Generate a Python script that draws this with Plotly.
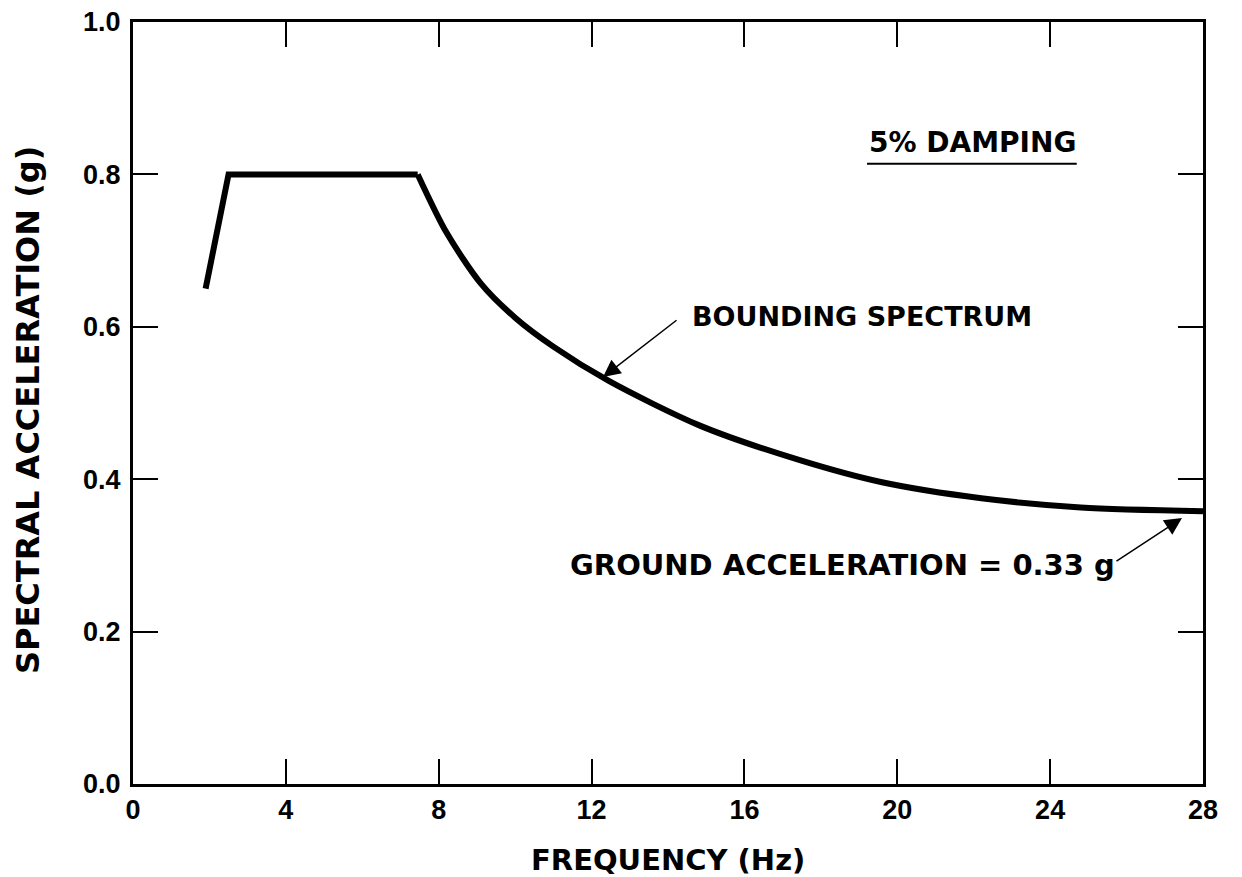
import plotly.graph_objects as go

# Data
freq_hz = [1.9, 2.5, 7.45, 8.2, 9.1, 10.0, 11.0, 12.45, 14.85, 17.45, 19.6, 22.2, 24.8, 28.0]
spectral_acc_g = [0.65, 0.80, 0.80, 0.724, 0.657, 0.612, 0.574, 0.529, 0.470, 0.425, 0.396, 0.375, 0.363, 0.358]
x_ticks = [0, 4, 8, 12, 16, 20, 24, 28]
y_ticks = [0.0, 0.2, 0.4, 0.6, 0.8, 1.0]
y_tick_labels = ["0.0", "0.2", "0.4", "0.6", "0.8", "1.0"]

TEXT_FONT = "DejaVu Sans"
TICK_FONT = "Liberation Sans"

fig = go.Figure()
# rising + plateau segment (straight lines)
fig.add_trace(go.Scatter(x=freq_hz[:3], y=spectral_acc_g[:3], mode="lines",
                         line=dict(color="black", width=6), showlegend=False,
                         hoverinfo="skip"))
# decaying segment (smooth)
fig.add_trace(go.Scatter(x=freq_hz[2:], y=spectral_acc_g[2:], mode="lines",
                         line=dict(color="black", width=6, shape="spline", smoothing=0.8),
                         showlegend=False, hoverinfo="skip"))

axis_common = dict(showline=True, linecolor="black", linewidth=3, mirror="allticks",
                   ticks="inside", ticklen=25, tickwidth=2, tickcolor="black",
                   showgrid=False, zeroline=False, automargin=False,
                   tickfont=dict(family=TICK_FONT, size=27, color="black", weight="bold"))

fig.update_xaxes(range=[0, 28], tickvals=x_ticks, ticktext=[str(v) for v in x_ticks],
                 ticklabelstandoff=0, **axis_common)
fig.update_yaxes(range=[0, 1.0], tickvals=y_ticks, ticktext=y_tick_labels,
                 ticklabelstandoff=4, **axis_common)

fig.add_annotation(text="FREQUENCY (Hz)", xref="paper", yref="paper", x=0.5, y=-0.1,
                   xanchor="center", yanchor="middle", showarrow=False,
                   font=dict(family=TEXT_FONT, size=29, color="black", weight="bold"))
fig.add_annotation(text="SPECTRAL ACCELERATION (g)", xref="paper", yref="paper",
                   x=-0.098, y=0.491, xanchor="center", yanchor="middle", textangle=-90,
                   showarrow=False,
                   font=dict(family=TEXT_FONT, size=32, color="black", weight="bold"))
fig.add_annotation(text="5% DAMPING", xref="paper", yref="paper", x=0.686, y=0.8425,
                   xanchor="left", yanchor="middle", showarrow=False,
                   font=dict(family=TEXT_FONT, size=28, color="black", weight="bold"))
fig.add_shape(type="line", xref="paper", yref="paper", x0=0.686, x1=0.882, y0=0.814, y1=0.814,
              line=dict(color="black", width=2))
fig.add_annotation(text="BOUNDING SPECTRUM", xref="paper", yref="paper", x=0.5206, y=0.613,
                   xanchor="left", yanchor="middle", showarrow=False,
                   font=dict(family=TEXT_FONT, size=27, color="black", weight="bold"))
fig.add_annotation(text="GROUND ACCELERATION = 0.33 g", xref="paper", yref="paper",
                   x=0.4065, y=0.287, xanchor="left", yanchor="middle", showarrow=False,
                   font=dict(family=TEXT_FONT, size=29, color="black", weight="bold"))
# arrows
fig.add_annotation(text="", x=12.30, y=0.534, xref="x", yref="y", ax=75, ay=-58,
                   showarrow=True, arrowhead=2, arrowsize=2.3, arrowwidth=1.5, arrowcolor="black")
fig.add_annotation(text="", x=27.45, y=0.349, xref="x", yref="y", ax=-67, ay=44,
                   showarrow=True, arrowhead=2, arrowsize=2.3, arrowwidth=1.5, arrowcolor="black")

fig.update_layout(width=1242, height=877, plot_bgcolor="white", paper_bgcolor="white",
                  margin=dict(l=133, r=39, t=22, b=93, autoexpand=False), showlegend=False)

fig.write_html("out.html", config={"displayModeBar": False},
               post_script="document.body.style.margin='0';document.body.style.overflow='hidden';")
